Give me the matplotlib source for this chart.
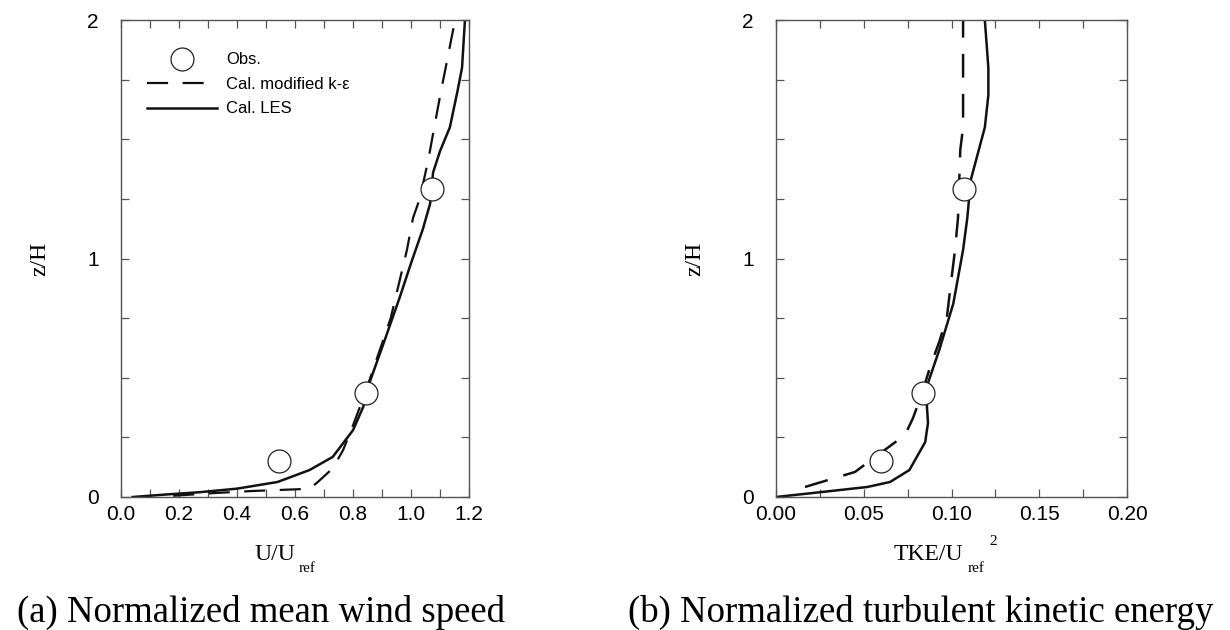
import matplotlib
matplotlib.use("Agg")
import matplotlib.pyplot as plt
from matplotlib.ticker import MultipleLocator, FormatStrFormatter

plt.rcParams['font.family'] = ['Liberation Sans', 'DejaVu Sans']
plt.rcParams['mathtext.fontset'] = 'custom'
plt.rcParams['mathtext.rm'] = 'Liberation Serif'
plt.rcParams['mathtext.it'] = 'Liberation Serif:italic'

# ---- data: (a) mean wind speed ----
obs_z = [0.151, 0.436, 1.29]
obs_u = [0.545, 0.845, 1.072]

les_u = [0.04, 0.15, 0.27, 0.40, 0.54, 0.65, 0.73, 0.80, 0.835, 0.86, 0.91,
         0.962, 1.00, 1.04, 1.066, 1.076, 1.10, 1.134, 1.16, 1.176, 1.186]
les_uz = [0.0, 0.01, 0.02, 0.035, 0.063, 0.113, 0.168, 0.28, 0.377, 0.49, 0.66,
          0.84, 0.98, 1.12, 1.23, 1.36, 1.45, 1.55, 1.70, 1.80, 2.0]

ke_u = [0.18, 0.30, 0.45, 0.60, 0.65, 0.676, 0.73, 0.766, 0.80, 0.84, 0.93,
        0.986, 1.007, 1.03, 1.059, 1.10, 1.152]
ke_uz = [0.005, 0.015, 0.025, 0.032, 0.035, 0.06, 0.12, 0.197, 0.30, 0.43, 0.75,
         1.036, 1.17, 1.25, 1.41, 1.68, 2.0]

# ---- data: (b) turbulent kinetic energy ----
obs_tke = [0.060, 0.084, 0.107]

les_k = [0.0, 0.025, 0.052, 0.065, 0.076, 0.085, 0.0866, 0.086, 0.0866, 0.093,
         0.101, 0.1066, 0.109, 0.111, 0.119, 0.121, 0.121, 0.119]
les_kz = [0.0, 0.02, 0.042, 0.063, 0.113, 0.23, 0.31, 0.38, 0.478, 0.616,
          0.81, 1.036, 1.17, 1.33, 1.55, 1.685, 1.80, 2.0]

ke_k = [0.0165, 0.045, 0.0735, 0.078, 0.083, 0.088, 0.093, 0.0974, 0.099,
        0.102, 0.1037, 0.105, 0.1066, 0.1066]
ke_kz = [0.042, 0.105, 0.26, 0.33, 0.43, 0.55, 0.65, 0.755, 0.855,
         1.036, 1.17, 1.455, 1.55, 2.0]

fig = plt.figure(figsize=(12.3, 6.3), dpi=100)
axA = fig.add_axes([121/1230, 133/630, 348/1230, 477/630])
axB = fig.add_axes([776/1230, 133/630, 351/1230, 477/630])

spine_col = '#555555'
dash = (9.5, 6.5)
msize = 16.5


def style(ax, xmax, xmajor, xminor, fmt, w):
    ax.set_xlim(0, xmax)
    ax.set_ylim(0, 2)
    ax.xaxis.set_major_locator(MultipleLocator(xmajor))
    ax.xaxis.set_minor_locator(MultipleLocator(xminor))
    ax.xaxis.set_major_formatter(FormatStrFormatter(fmt))
    ax.yaxis.set_major_locator(MultipleLocator(1))
    ax.yaxis.set_minor_locator(MultipleLocator(0.25))
    ax.tick_params(which='both', direction='in', top=True, right=True,
                   length=5.5, width=0.9, color=spine_col, labelsize=15)
    ax.tick_params(axis='x', which='major', pad=6)
    ax.tick_params(axis='y', which='major', pad=16)
    for s in ax.spines.values():
        s.set_color(spine_col)
        s.set_linewidth(1.0)
    ax.set_ylabel('z/H', family='Liberation Serif', fontsize=17)
    ax.yaxis.set_label_coords(-71 / w, 0.5)


style(axA, 1.2, 0.2, 0.1, '%.1f', 348)
style(axB, 0.2, 0.05, 0.025, '%.2f', 351)

# panel a
axA.plot(ke_u, ke_uz, color='#111111', lw=1.6, dashes=dash,
         label=r'Cal. modified k-ε')
axA.plot(les_u, les_uz, color='#111111', lw=1.8, label='Cal. LES')
axA.plot(obs_u, obs_z, ls='none', marker='o', ms=msize, mfc='white',
         mec='#222222', mew=0.9, label='Obs.', zorder=5)

# panel b
axB.plot(ke_k, ke_kz, color='#111111', lw=1.8, dashes=dash)
axB.plot(les_k, les_kz, color='#111111', lw=1.8)
axB.plot(obs_tke, obs_z, ls='none', marker='o', ms=msize, mfc='white',
         mec='#222222', mew=0.9, zorder=5)

handles, labels = axA.get_legend_handles_labels()
order = [2, 0, 1]
leg = axA.legend([handles[i] for i in order], [labels[i] for i in order],
                 loc='upper left', bbox_to_anchor=(0.075, 0.932),
                 frameon=False, fontsize=12, handlelength=4.2,
                 handletextpad=0.55, labelspacing=0.57, borderpad=0,
                 borderaxespad=0, markerscale=1.0)

# x axis labels (serif, with low subscript as in the reference)
serif = 'Liberation Serif'
axA.text(0.5, -0.133, 'U/U', transform=axA.transAxes, family=serif,
         fontsize=17, ha='right', va='baseline')
axA.text(0.5 + 4/348, -0.158, 'ref', transform=axA.transAxes, family=serif,
         fontsize=11, ha='left', va='baseline')

axB.text(0.5 + 12/351, -0.133, 'TKE/U', transform=axB.transAxes, family=serif,
         fontsize=17, ha='right', va='baseline')
axB.text(0.5 + 16/351, -0.158, 'ref', transform=axB.transAxes, family=serif,
         fontsize=11, ha='left', va='baseline')
axB.text(0.5 + 38/351, -0.10, '2', transform=axB.transAxes, family=serif,
         fontsize=11, ha='left', va='baseline')

fig.text(261/1230, 8/630, '(a) Normalized mean wind speed',
         family=serif, fontsize=26.5, ha='center', va='baseline')
fig.text(921/1230, 8/630, '(b) Normalized turbulent kinetic energy',
         family=serif, fontsize=26.5, ha='center', va='baseline')

fig.savefig('out.png', dpi=100)
